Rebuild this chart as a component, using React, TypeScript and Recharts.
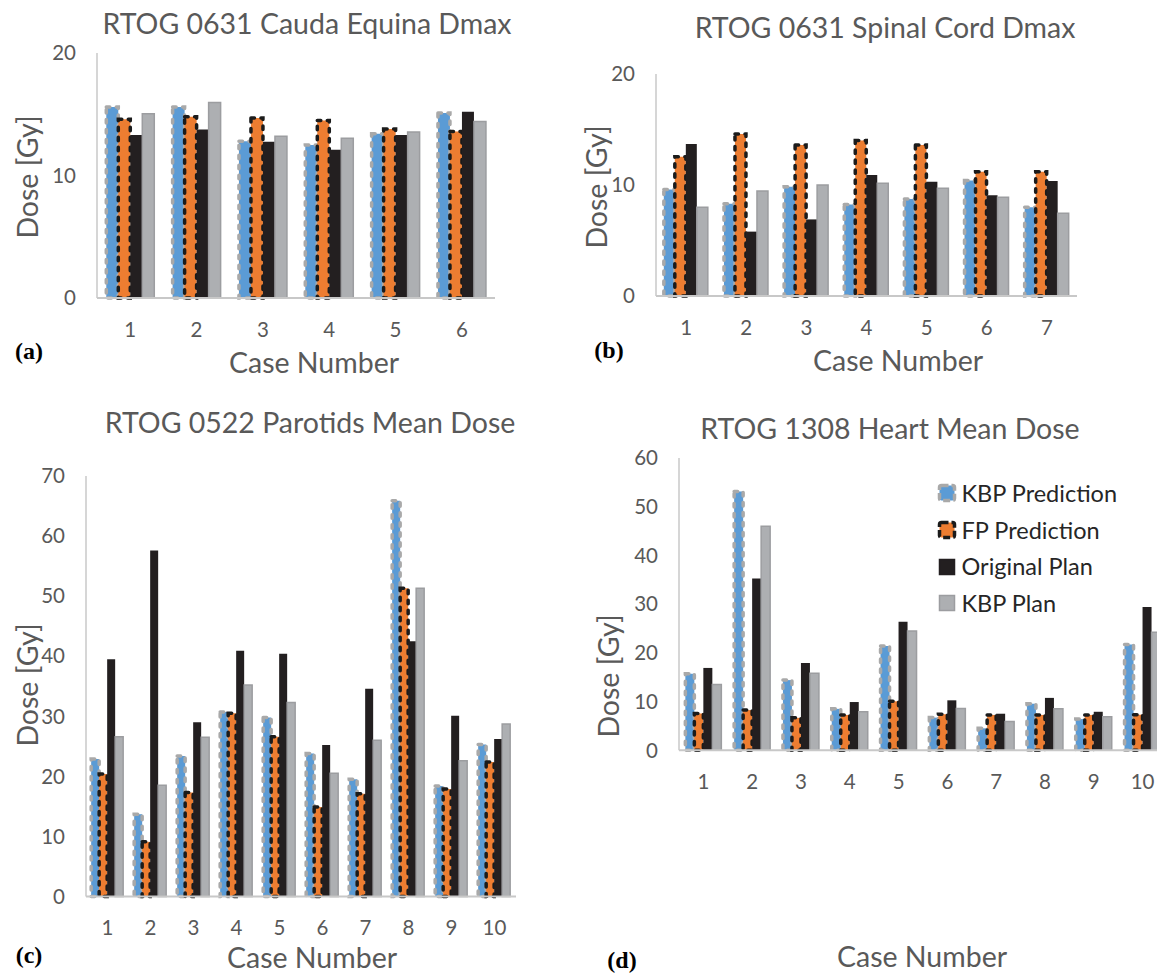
import React from 'react';
import { BarChart, Bar, XAxis, YAxis, Legend } from 'recharts';

// ---------- DATA ----------
const seriesNames = ['KBP Prediction', 'FP Prediction', 'Original Plan', 'KBP Plan'];

const titleA = 'RTOG 0631 Cauda Equina Dmax';
const casesA = ['1', '2', '3', '4', '5', '6'];
const kbpPredA = [15.6, 15.6, 12.8, 12.5, 13.4, 15.1];
const fpPredA = [14.6, 14.8, 14.7, 14.5, 13.8, 13.6];
const origPlanA = [13.3, 13.75, 12.75, 12.1, 13.3, 15.2];
const kbpPlanA = [15.05, 15.95, 13.2, 13.05, 13.55, 14.4];
const ticksA = [0, 10, 20];

const titleB = 'RTOG 0631 Spinal Cord Dmax';
const casesB = ['1', '2', '3', '4', '5', '6', '7'];
const kbpPredB = [9.6, 8.3, 9.85, 8.25, 8.75, 10.4, 8.0];
const fpPredB = [12.55, 14.6, 13.6, 14.0, 13.6, 11.2, 11.2];
const origPlanB = [13.7, 5.8, 6.9, 10.9, 10.3, 9.07, 10.35];
const kbpPlanB = [8.0, 9.45, 10.0, 10.15, 9.7, 8.9, 7.45];
const ticksB = [0, 10, 20];

const titleC = 'RTOG 0522 Parotids Mean Dose';
const casesC = ['1', '2', '3', '4', '5', '6', '7', '8', '9', '10'];
const kbpPredC = [22.9, 13.7, 23.4, 30.7, 29.8, 23.8, 19.5, 65.9, 18.4, 25.3];
const fpPredC = [20.4, 9.1, 17.3, 30.5, 26.6, 14.9, 17.1, 51.3, 17.9, 22.4];
const origPlanC = [39.5, 57.6, 29.0, 40.9, 40.4, 25.2, 34.6, 42.5, 30.1, 26.2];
const kbpPlanC = [26.6, 18.5, 26.5, 35.2, 32.3, 20.5, 26.0, 51.3, 22.6, 28.7];
const ticksC = [0, 10, 20, 30, 40, 50, 60, 70];

const titleD = 'RTOG 1308 Heart Mean Dose';
const casesD = ['1', '2', '3', '4', '5', '6', '7', '8', '9', '10'];
const kbpPredD = [15.7, 53.1, 14.4, 8.5, 21.4, 6.7, 4.5, 9.55, 6.4, 21.7];
const fpPredD = [7.55, 8.25, 6.65, 7.25, 10.05, 7.4, 7.25, 7.25, 7.25, 7.3];
const origPlanD = [16.9, 35.25, 17.9, 9.9, 26.4, 10.25, 7.5, 10.75, 7.9, 29.4];
const kbpPlanD = [13.5, 46.0, 15.8, 7.9, 24.5, 8.55, 5.9, 8.5, 6.9, 24.25];
const ticksD = [0, 10, 20, 30, 40, 50, 60];

const xLabel = 'Case Number';
const yLabel = 'Dose [Gy]';

// ---------- STYLES ----------
const FONT = 'Lato, "Open Sans", sans-serif';
const TEXT_GRAY = '#595959';
const AXIS_GRAY = '#C8C8C8';
const TICK_SIZE = 20.5;
const LABEL_SIZE = 28.5;

const barStyles = [
  { key: 'kbpPred', fill: '#5B9BD5', stroke: '#A9A9A9', strokeWidth: 3.5, dash: '3.5 6.5' },
  { key: 'fpPred', fill: '#ED7D31', stroke: '#1B1B1B', strokeWidth: 3.5, dash: '3.5 6.5' },
  { key: 'origPlan', fill: '#231F20', stroke: 'none', strokeWidth: 0, dash: undefined },
  { key: 'kbpPlan', fill: '#ADAFB2', stroke: '#9C9DA0', strokeWidth: 1.5, dash: undefined },
];

function buildRows(cases: string[], a: number[], b: number[], c: number[], d: number[]) {
  return cases.map((name, i) => ({ name, kbpPred: a[i], fpPred: b[i], origPlan: c[i], kbpPlan: d[i] }));
}

const YW = 60;
const MT = 15;
const MR = 5;
const XH = 60;

type PanelLayout = {
  plotLeft: number; plotTop: number; plotRight: number; plotBottom: number;
  gap: string;
};

const LegendContent = () => (
  <div style={{ fontFamily: FONT, fontSize: 23.5, color: '#262626', lineHeight: '36.7px' }}>
    {seriesNames.map((n, i) => {
      const s = barStyles[i];
      return (
        <div key={n} style={{ display: 'flex', alignItems: 'center', height: 36.7, whiteSpace: 'nowrap' }}>
          <svg width={20} height={20} style={{ marginRight: 5 }}>
            <rect x={2.5} y={2.5} width={15} height={15} rx={i < 2 ? 2 : 0}
              fill={s.fill}
              stroke={s.stroke === 'none' ? s.fill : s.stroke}
              strokeWidth={i < 2 ? 3.5 : 1.5}
              strokeDasharray={i < 2 ? '7 3' : undefined} />
          </svg>
          <span>{n}</span>
        </div>
      );
    })}
  </div>
);

function Panel({ rows, ticks, layout, legend }: { rows: any[]; ticks: number[]; layout: PanelLayout; legend?: { left: number; top: number } }) {
  const pw = layout.plotRight - layout.plotLeft;
  const ph = layout.plotBottom - layout.plotTop;
  const width = YW + pw + MR;
  const height = MT + ph + XH;
  const left = layout.plotLeft - YW;
  const top = layout.plotTop - MT;
  return (
    <div style={{ position: 'absolute', left, top, width, height }}>
      <BarChart width={width} height={height} data={rows}
        margin={{ top: MT, right: MR, bottom: 0, left: 0 }}
        barCategoryGap={layout.gap} barGap={0}>
        <XAxis dataKey="name" height={XH} tickSize={0} tickMargin={24} tickLine={false}
          axisLine={{ stroke: AXIS_GRAY, strokeWidth: 1.8 }}
          tick={{ fill: TEXT_GRAY, fontSize: TICK_SIZE, fontFamily: FONT }} interval={0} />
        <YAxis width={YW} domain={[ticks[0], ticks[ticks.length - 1]]} ticks={ticks} tickSize={0} tickMargin={21}
          tickLine={false} axisLine={{ stroke: AXIS_GRAY, strokeWidth: 1.5 }}
          tick={{ fill: TEXT_GRAY, fontSize: TICK_SIZE, fontFamily: FONT }} allowDecimals={false} />
        {barStyles.map((s, i) => (
          <Bar key={s.key} dataKey={s.key} name={seriesNames[i]} fill={s.fill} stroke={s.stroke}
            strokeWidth={s.strokeWidth} strokeDasharray={s.dash} strokeLinecap="round"
            isAnimationActive={false} />
        ))}
        {legend && (
          <Legend content={<LegendContent />} wrapperStyle={{ left: legend.left, top: legend.top, width: 'auto' }} />
        )}
      </BarChart>
    </div>
  );
}

const textBase: React.CSSProperties = {
  position: 'absolute', transform: 'translate(-50%, -50%)', whiteSpace: 'nowrap',
  fontFamily: FONT, color: TEXT_GRAY, lineHeight: 1,
};

function Txt({ x, y, size, children, rotate, color, serif }: any) {
  return (
    <div style={{
      ...textBase, left: x, top: y, fontSize: size,
      transform: `translate(-50%, -50%)${rotate ? ' rotate(-90deg)' : ''}`,
      color: color || TEXT_GRAY,
      fontFamily: serif ? '"Liberation Serif", "DejaVu Serif", serif' : FONT,
      fontWeight: serif ? 700 : 400,
    }}>{children}</div>
  );
}

export default function App() {
  return (
    <div style={{ position: 'absolute', left: 0, top: 0, width: 1157, height: 974, overflow: 'hidden', background: '#fff' }}>
      <Panel rows={buildRows(casesA, kbpPredA, fpPredA, origPlanA, kbpPlanA)} ticks={ticksA}
        layout={{ plotLeft: 97, plotTop: 52.5, plotRight: 495, plotBottom: 297.5, gap: '14%' }} />
      <Panel rows={buildRows(casesB, kbpPredB, fpPredB, origPlanB, kbpPlanB)} ticks={ticksB}
        layout={{ plotLeft: 656, plotTop: 74, plotRight: 1077, plotBottom: 296, gap: '13%' }} />
      <Panel rows={buildRows(casesC, kbpPredC, fpPredC, origPlanC, kbpPlanC)} ticks={ticksC}
        layout={{ plotLeft: 86, plotTop: 475.5, plotRight: 516, plotBottom: 896, gap: '12%' }} />
      <Panel rows={buildRows(casesD, kbpPredD, fpPredD, origPlanD, kbpPlanD)} ticks={ticksD}
        layout={{ plotLeft: 678.5, plotTop: 458, plotRight: 1166.5, plotBottom: 897, gap: '13%' }}
        legend={{ left: 318, top: 32 }} />

      <Txt x={307} y={23} size={LABEL_SIZE}>{titleA}</Txt>
      <Txt x={885} y={27} size={LABEL_SIZE}>{titleB}</Txt>
      <Txt x={310} y={422} size={LABEL_SIZE}>{titleC}</Txt>
      <Txt x={890} y={428} size={LABEL_SIZE}>{titleD}</Txt>

      <Txt x={314} y={362} size={LABEL_SIZE}>{xLabel}</Txt>
      <Txt x={898} y={360} size={LABEL_SIZE}>{xLabel}</Txt>
      <Txt x={312} y={957} size={LABEL_SIZE}>{xLabel}</Txt>
      <Txt x={922} y={956} size={LABEL_SIZE}>{xLabel}</Txt>

      <Txt x={27} y={177} size={LABEL_SIZE} rotate>{yLabel}</Txt>
      <Txt x={596} y={187} size={LABEL_SIZE} rotate>{yLabel}</Txt>
      <Txt x={27} y={685} size={LABEL_SIZE} rotate>{yLabel}</Txt>
      <Txt x={608} y={676} size={LABEL_SIZE} rotate>{yLabel}</Txt>

      <Txt x={29} y={351} size={24} color="#000" serif>(a)</Txt>
      <Txt x={609} y={350} size={24} color="#000" serif>(b)</Txt>
      <Txt x={29} y={955} size={24} color="#000" serif>(c)</Txt>
      <Txt x={622} y={960} size={24} color="#000" serif>(d)</Txt>
    </div>
  );
}
